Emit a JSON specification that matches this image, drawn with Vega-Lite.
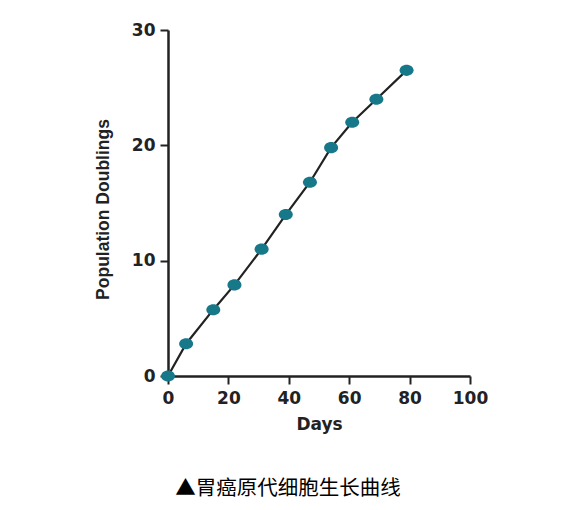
{
  "$schema": "https://vega.github.io/schema/vega-lite/v6.json",
  "autosize": "none",
  "width": 302,
  "height": 346,
  "padding": {"left": 168, "top": 30, "right": 99, "bottom": 134},
  "background": "white",
  "title": {
    "text": "▲胃癌原代细胞生长曲线",
    "orient": "bottom",
    "anchor": "middle",
    "font": "Noto Sans CJK SC",
    "fontSize": 20.5,
    "fontWeight": "normal",
    "color": "#000000",
    "offset": 47,
    "dx": -31
  },
  "data": {
    "values": [
      {"day": 0, "pd": 0},
      {"day": 6, "pd": 2.8},
      {"day": 15, "pd": 5.75},
      {"day": 22, "pd": 7.9},
      {"day": 31, "pd": 11.0},
      {"day": 39, "pd": 14.0},
      {"day": 47, "pd": 16.8},
      {"day": 54, "pd": 19.8},
      {"day": 61, "pd": 22.0},
      {"day": 69, "pd": 24.0},
      {"day": 79, "pd": 26.5}
    ]
  },
  "encoding": {
    "x": {
      "field": "day", "type": "quantitative",
      "scale": {"domain": [0, 100], "nice": false},
      "axis": {
        "title": "Days", "values": [0, 20, 40, 60, 80, 100],
        "grid": false, "domainColor": "#222", "domainWidth": 2.5,
        "tickColor": "#222", "tickWidth": 2, "tickSize": 8,
        "labelFlush": false,
        "labelFont": "DejaVu Sans", "labelFontWeight": "bold", "labelFontSize": 17, "labelColor": "#222",
        "labelPadding": 6,
        "titleFont": "DejaVu Sans", "titleFontWeight": "bold", "titleFontSize": 17, "titleColor": "#222",
        "titlePadding": 10
      }
    },
    "y": {
      "field": "pd", "type": "quantitative",
      "scale": {"domain": [0, 30], "nice": false},
      "axis": {
        "title": "Population Doublings", "values": [0, 10, 20, 30],
        "grid": false, "domainColor": "#222", "domainWidth": 2.5,
        "tickColor": "#222", "tickWidth": 2, "tickSize": 8,
        "labelFlush": false,
        "labelFont": "DejaVu Sans", "labelFontWeight": "bold", "labelFontSize": 17, "labelColor": "#222",
        "labelPadding": 5,
        "titleFont": "Liberation Sans", "titleFontWeight": "bold", "titleFontSize": 17.5, "titleColor": "#222",
        "titlePadding": 19,
        "titleY": 179
      }
    }
  },
  "layer": [
    {"mark": {"type": "line", "color": "#222222", "strokeWidth": 2.2, "clip": false}},
    {"mark": {"type": "point", "filled": true, "color": "#17788a", "opacity": 1, "size": 196, "shape": "M-1,0A1,0.79,0,1,0,1,0A1,0.79,0,1,0,-1,0Z", "clip": false}}
  ],
  "config": {"view": {"stroke": null}}
}
